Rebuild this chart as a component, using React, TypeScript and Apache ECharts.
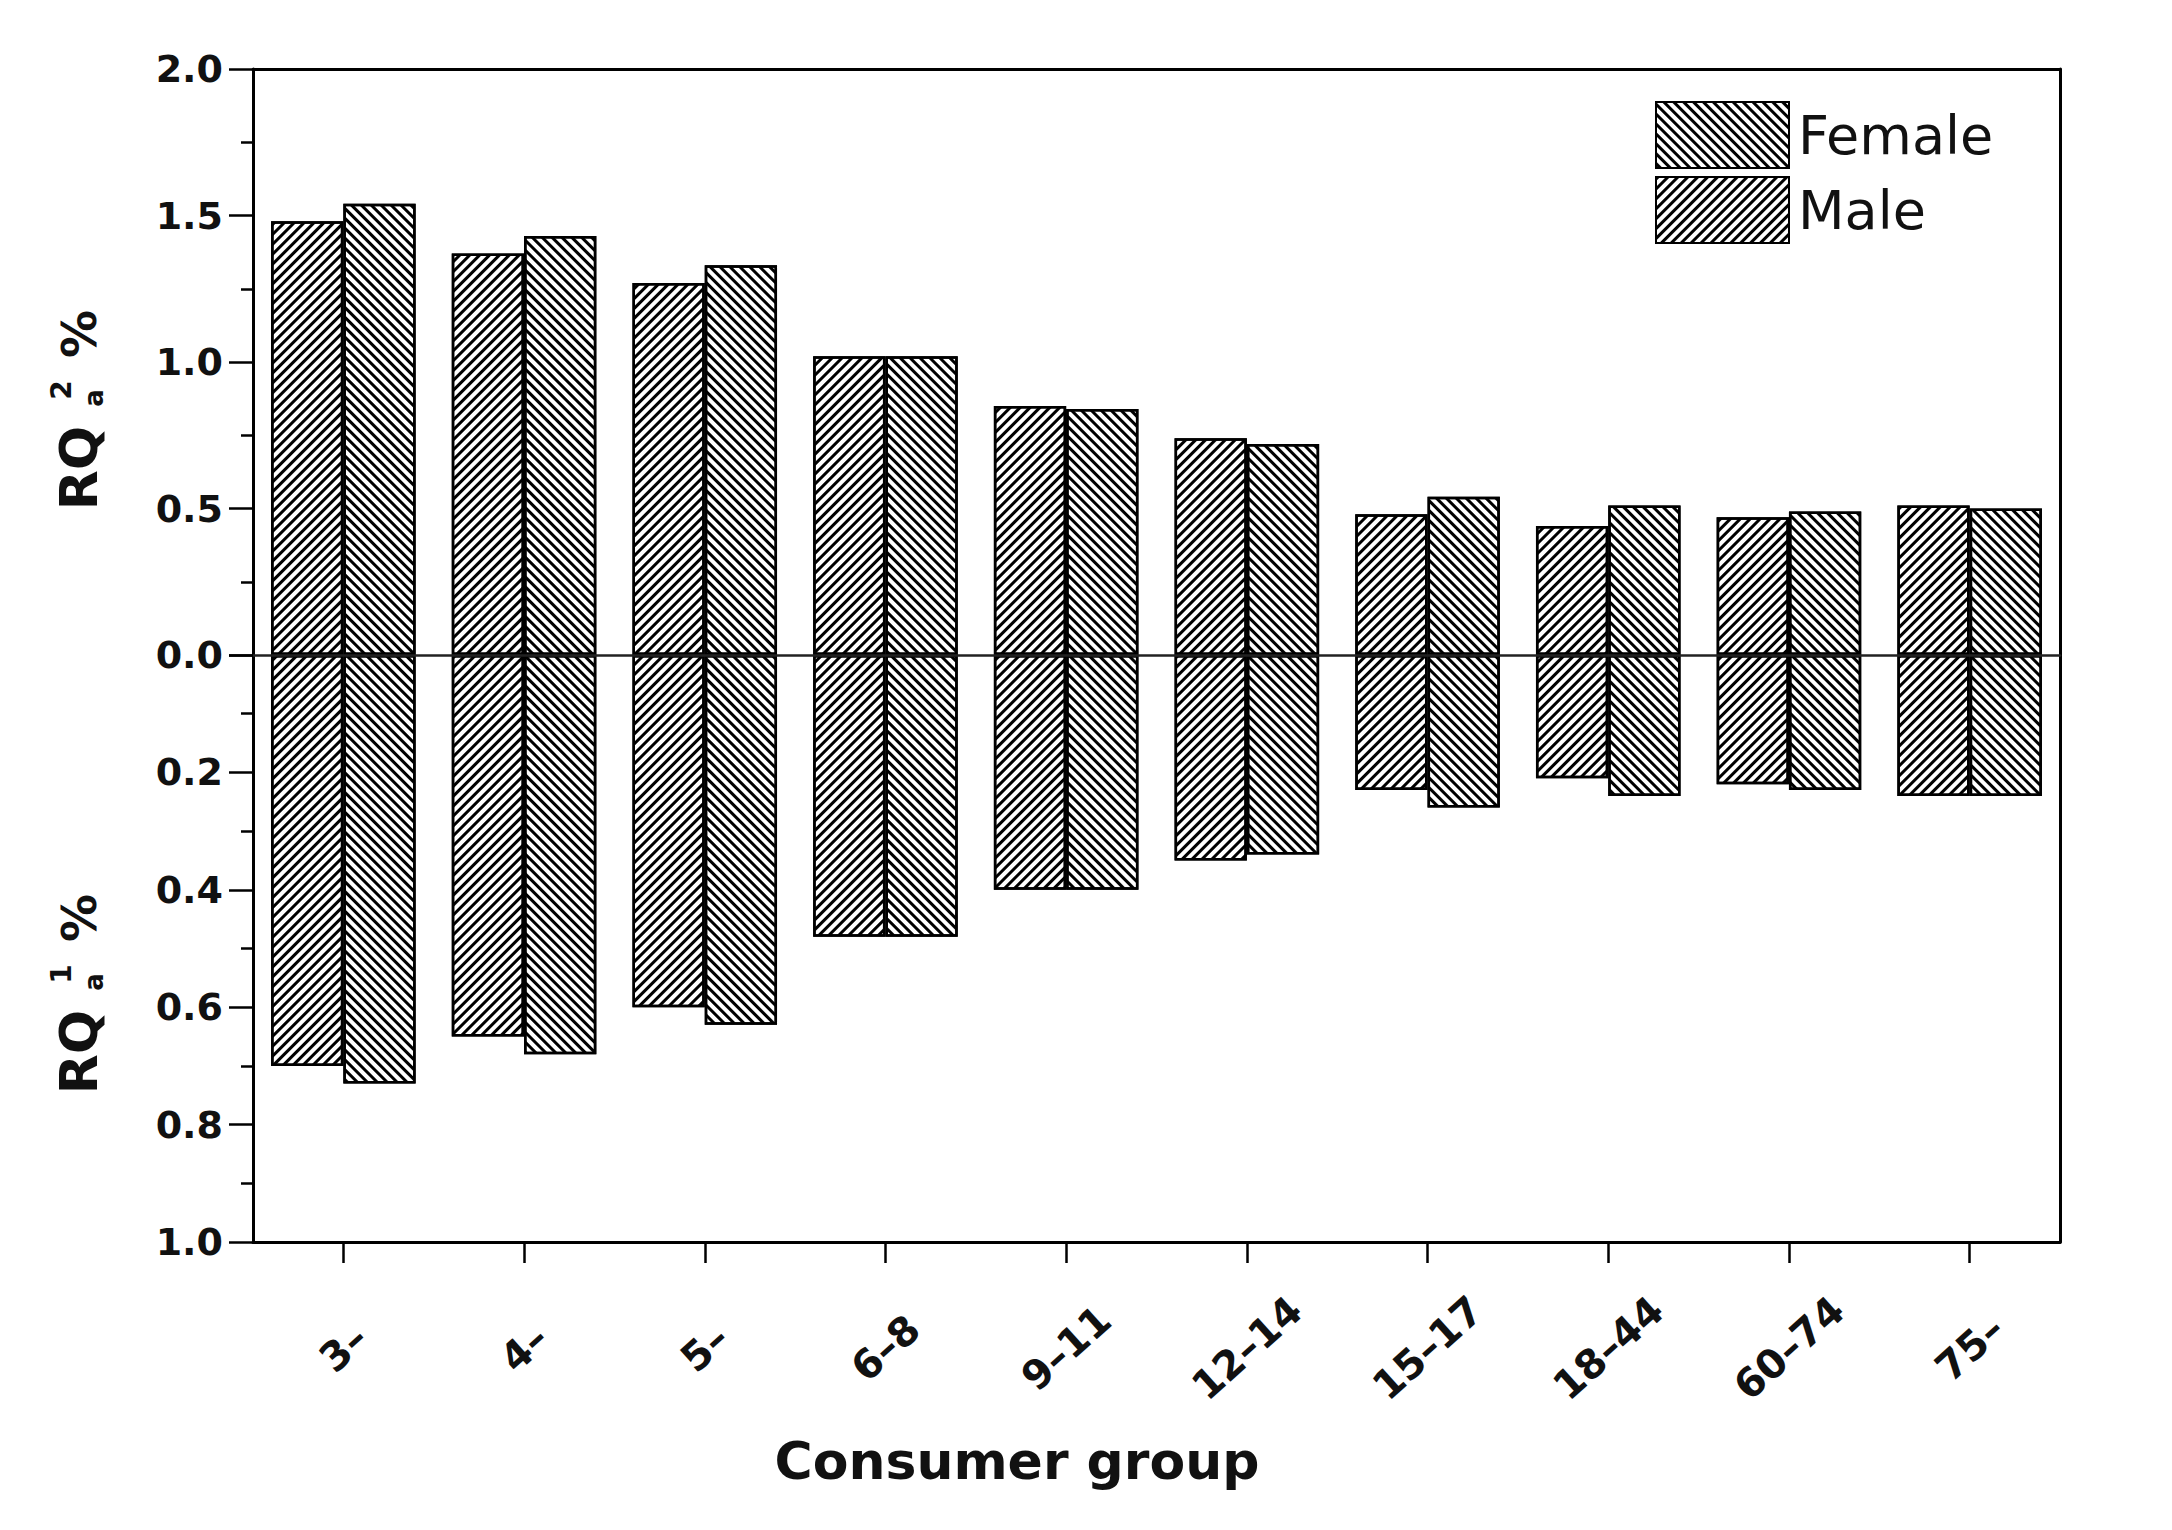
import React, { useEffect, useRef } from 'react';
import * as echarts from 'echarts';

const categories = ['3–', '4–', '5–', '6–8', '9–11', '12–14', '15–17', '18–44', '60–74', '75–'];
// RQa2 % (upper half)
const maleRQa2 = [1.48, 1.37, 1.27, 1.02, 0.85, 0.74, 0.48, 0.44, 0.47, 0.51];
const femaleRQa2 = [1.54, 1.43, 1.33, 1.02, 0.84, 0.72, 0.54, 0.51, 0.49, 0.50];
// RQa1 % (lower half, drawn downward)
const maleRQa1 = [0.70, 0.65, 0.60, 0.48, 0.40, 0.35, 0.23, 0.21, 0.22, 0.24];
const femaleRQa1 = [0.73, 0.68, 0.63, 0.48, 0.40, 0.34, 0.26, 0.24, 0.23, 0.24];

const legendNames = ['Female', 'Male'];

const FONT = 'DejaVu Sans';
const GL = 253;
const GR = 112;
const TOP = 69;
const ZERO = 655;
const BOTTOM = 1242;

const hatchMale = {
  symbol: 'rect',
  symbolSize: 1,
  dashArrayX: [1, 0],
  dashArrayY: [3, 4],
  rotation: -Math.PI / 4,
  color: '#000',
};
const hatchFemale = { ...hatchMale, rotation: Math.PI / 4 };

const barStyle = (decal: any) => ({
  color: '#fff',
  borderColor: '#000',
  borderWidth: 2.5,
  decal,
});

const tickLabel = {
  fontFamily: FONT,
  fontWeight: 'bold' as const,
  fontSize: 38,
  color: '#111',
  margin: 30,
};

function rotText(text: string, x: number, y: number, font: string) {
  return {
    type: 'text',
    x,
    y,
    rotation: Math.PI / 2,
    style: {
      text, font, fill: '#111',
      align: 'center', verticalAlign: 'middle', textAlign: 'center', textVerticalAlign: 'middle',
    },
  };
}

function titleParts(base: number, sup: string) {
  return [
    rotText('RQ', 79, base - 42, `bold 52px "${FONT}"`),
    rotText(sup, 61, base - 120, `bold 28px "${FONT}"`),
    rotText('a', 94, base - 112, `bold 26px "${FONT}"`),
    rotText('%', 79, base - 176, `bold 48px "${FONT}"`),
  ];
}

export default function App() {
  const ref = useRef<HTMLDivElement>(null);
  useEffect(() => {
    document.body.style.margin = '0';
    const chart = echarts.init(ref.current!, null, { renderer: 'svg' });
    const frameLine = { show: true, onZero: false, lineStyle: { color: '#000', width: 3 } };
    const option: any = {
      animation: false,
      backgroundColor: '#fff',
      legend: {
        data: legendNames,
        orient: 'vertical',
        left: 1650,
        top: 96,
        itemWidth: 133,
        itemHeight: 66,
        itemGap: 7,
        selectedMode: false,
        icon: 'rect',
        textStyle: { fontFamily: FONT, fontSize: 54, color: '#111', padding: [0, 0, 0, 4] },
      },
      grid: [
        { left: GL, right: GR, top: TOP, height: ZERO - TOP },
        { left: GL, right: GR, top: ZERO, height: BOTTOM - ZERO },
      ],
      xAxis: [
        {
          type: 'category', gridIndex: 0, data: categories, position: 'bottom', z: 10,
          axisLine: { show: true, onZero: false, lineStyle: { color: '#222', width: 2.5 } },
          axisTick: { show: false }, axisLabel: { show: false }, splitLine: { show: false },
        },
        {
          type: 'category', gridIndex: 0, data: categories, position: 'top', z: 10,
          axisLine: frameLine, axisTick: { show: false }, axisLabel: { show: false }, splitLine: { show: false },
        },
        {
          type: 'category', gridIndex: 1, data: categories, position: 'bottom', z: 10,
          axisLine: frameLine,
          axisTick: { show: true, alignWithLabel: true, length: 21, lineStyle: { color: '#000', width: 2.5 } },
          axisLabel: {
            interval: 0, rotate: 42, align: 'center', verticalAlign: 'middle', margin: 106,
            fontFamily: FONT, fontWeight: 'bold', fontSize: 40, color: '#111',
          },
          splitLine: { show: false },
        },
      ],
      yAxis: [
        {
          type: 'value', gridIndex: 0, min: 0, max: 2, interval: 0.5, position: 'left', z: 10,
          axisLine: frameLine,
          axisTick: { show: true, length: 24, lineStyle: { color: '#000', width: 2.5 } },
          minorTick: { show: true, splitNumber: 2, length: 12, lineStyle: { color: '#000', width: 2.5 } },
          axisLabel: { ...tickLabel, formatter: (v: number) => v.toFixed(1) },
          splitLine: { show: false },
        },
        {
          type: 'value', gridIndex: 0, min: 0, max: 2, position: 'right', z: 10,
          axisLine: frameLine, axisTick: { show: false }, axisLabel: { show: false }, splitLine: { show: false },
        },
        {
          type: 'value', gridIndex: 1, min: 0, max: 1, interval: 0.2, inverse: true, position: 'left', z: 10,
          axisLine: frameLine,
          axisTick: { show: true, length: 24, lineStyle: { color: '#000', width: 2.5 } },
          minorTick: { show: true, splitNumber: 2, length: 12, lineStyle: { color: '#000', width: 2.5 } },
          axisLabel: { ...tickLabel, formatter: (v: number) => (v === 0 ? '' : v.toFixed(1)) },
          splitLine: { show: false },
        },
        {
          type: 'value', gridIndex: 1, min: 0, max: 1, inverse: true, position: 'right', z: 10,
          axisLine: frameLine, axisTick: { show: false }, axisLabel: { show: false }, splitLine: { show: false },
        },
      ],
      series: [
        {
          name: 'Male', type: 'bar', xAxisIndex: 0, yAxisIndex: 0, data: maleRQa2,
          barGap: '0%', barCategoryGap: '20%', itemStyle: barStyle(hatchMale),
        },
        {
          name: 'Female', type: 'bar', xAxisIndex: 0, yAxisIndex: 0, data: femaleRQa2,
          barGap: '0%', barCategoryGap: '20%', itemStyle: barStyle(hatchFemale),
        },
        {
          name: 'Male', type: 'bar', xAxisIndex: 2, yAxisIndex: 2, data: maleRQa1,
          barGap: '0%', barCategoryGap: '20%', itemStyle: barStyle(hatchMale),
        },
        {
          name: 'Female', type: 'bar', xAxisIndex: 2, yAxisIndex: 2, data: femaleRQa1,
          barGap: '0%', barCategoryGap: '20%', itemStyle: barStyle(hatchFemale),
        },
      ],
      graphic: [
        ...titleParts(510, '2'),
        ...titleParts(1094, '1'),
        {
          type: 'text',
          x: 1017,
          y: 1461,
          style: {
            text: 'Consumer group', font: `bold 52px "${FONT}"`, fill: '#111',
            align: 'center', verticalAlign: 'middle', textAlign: 'center', textVerticalAlign: 'middle',
          },
        },
      ],
    };
    chart.setOption(option);
    return () => chart.dispose();
  }, []);
  return <div ref={ref} style={{ width: 2172, height: 1530, background: '#fff' }} />;
}
